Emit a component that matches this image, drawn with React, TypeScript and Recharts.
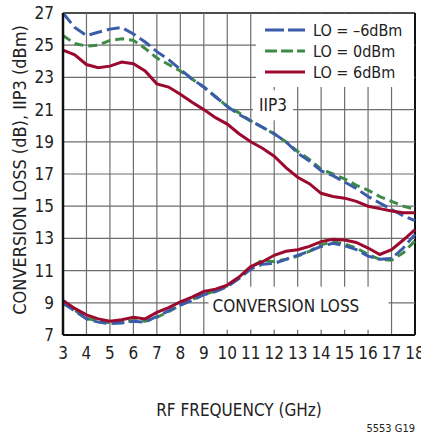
import { LineChart, Line, ReferenceDot, ReferenceLine, XAxis, YAxis } from "recharts";

const FONT =
  "'Liberation Sans Narrow', 'Arial Narrow', 'DejaVu Sans Condensed', sans-serif";

// RF frequency (GHz)
const FREQ = [
  3, 3.5, 4, 4.5, 5, 5.5, 6, 6.5, 7, 7.5, 8, 8.5, 9, 9.5, 10, 10.5, 11, 11.5,
  12, 12.5, 13, 13.5, 14, 14.5, 15, 15.5, 16, 16.5, 17, 17.5, 18,
];

// IIP3 (dBm)
const IIP3_LO_M6 = [
  27.0, 26.1, 25.6, 25.8, 26.0, 26.1, 25.7, 25.2, 24.6, 24.1, 23.5, 22.9, 22.4,
  21.8, 21.2, 20.7, 20.3, 19.9, 19.5, 19.0, 18.3, 17.8, 17.2, 16.9, 16.5, 16.1,
  15.6, 15.2, 14.8, 14.4, 14.1,
];
const IIP3_LO_0 = [
  25.6, 25.1, 24.95, 25.0, 25.3, 25.4, 25.3, 24.8, 24.2, 23.8, 23.4, 22.9, 22.4,
  21.8, 21.2, 20.8, 20.3, 19.9, 19.5, 19.0, 18.4, 17.9, 17.3, 17.0, 16.7, 16.3,
  16.0, 15.6, 15.3, 15.0, 14.8,
];
const IIP3_LO_6 = [
  24.7, 24.4, 23.8, 23.6, 23.7, 23.95, 23.85, 23.4, 22.6, 22.4, 21.95, 21.45,
  21.0, 20.5, 20.1, 19.5, 19.0, 18.6, 18.1, 17.4, 16.8, 16.4, 15.8, 15.6, 15.5,
  15.3, 15.0, 14.85, 14.7, 14.6, 14.6,
];

// Conversion loss (dB)
const CL_LO_M6 = [
  9.0, 8.5, 8.0, 7.8, 7.7, 7.75, 7.85, 7.8, 8.15, 8.5, 8.85, 9.15, 9.5, 9.7,
  10.0, 10.5, 11.1, 11.4, 11.45, 11.7, 11.95, 12.2, 12.5, 12.7, 12.55, 12.3,
  11.9, 11.7, 11.75, 12.4, 13.25,
];
const CL_LO_0 = [
  8.95, 8.55, 8.05, 7.85, 7.75, 7.8, 7.9, 7.85, 8.1, 8.45, 8.85, 9.2, 9.5, 9.75,
  10.05, 10.55, 11.2, 11.65, 11.55, 11.7, 11.9, 12.2, 12.6, 12.8, 12.65, 12.4,
  12.0, 11.7, 11.65, 12.1, 12.85,
];
const CL_LO_6 = [
  9.15, 8.65, 8.25, 8.0, 7.85, 7.95, 8.1, 8.0, 8.4, 8.7, 9.05, 9.35, 9.7, 9.85,
  10.1, 10.6, 11.25, 11.55, 11.95, 12.2, 12.3, 12.5, 12.8, 12.95, 12.9, 12.75,
  12.4, 12.0, 12.3, 12.9, 13.55,
];

const X_TICKS = [3, 4, 5, 6, 7, 8, 9, 10, 11, 12, 13, 14, 15, 16, 17, 18];
const Y_TICKS = [7, 9, 11, 13, 15, 17, 19, 21, 23, 25, 27];
const X_MIN = 3;
const X_MAX = 18;
const Y_MIN = 7;
const Y_MAX = 27;

const LEGEND_LABELS = ["LO = \u20136dBm", "LO = 0dBm", "LO = 6dBm"];

const BLUE = "#3b5cab";
const GREEN = "#3d8b45";
const RED = "#9b0a2e";
const GRID = "#6e6e6e";

const SERIES = [
  { iip3: "iip3_0", cl: "cl_0", color: GREEN, dash: "9 5" },
  { iip3: "iip3_m6", cl: "cl_m6", color: BLUE, dash: "13 5" },
  { iip3: "iip3_6", cl: "cl_6", color: RED, dash: undefined },
];

const data = FREQ.map((f, i) => ({
  f,
  iip3_m6: IIP3_LO_M6[i],
  iip3_0: IIP3_LO_0[i],
  iip3_6: IIP3_LO_6[i],
  cl_m6: CL_LO_M6[i],
  cl_0: CL_LO_0[i],
  cl_6: CL_LO_6[i],
}));

// grid drawn as two-point series so it goes through the chart scales
const gridV = X_TICKS.slice(1, -1).map((t) => [
  { f: t, g: Y_MIN },
  { f: t, g: Y_MAX },
]);
const gridH = Y_TICKS.slice(1, -1).map((t) => [
  { f: X_MIN, g: t },
  { f: X_MAX, g: t },
]);

const LEGEND_STYLES = [
  { color: BLUE, dash: "19 4" },
  { color: GREEN, dash: "12 4" },
  { color: RED, dash: undefined },
];

// white label box anchored at its top-left data corner
function labelBox(text: string, w: number, h: number, centered: boolean) {
  return (props: { cx?: number; cy?: number }) => {
    if (typeof props.cx !== "number" || typeof props.cy !== "number") {
      return <g />;
    }
    return (
      <g transform={`translate(${props.cx}, ${props.cy})`}>
        <rect x={0} y={0} width={w} height={h} fill="#fff" />
        <text
          x={centered ? w / 2 : 4}
          y={h / 2 - (centered ? 0 : 2)}
          dy="0.36em"
          textAnchor={centered ? "middle" : "start"}
          fontSize={17}
          fontFamily={FONT}
          fill="#222"
        >
          {text}
        </text>
      </g>
    );
  };
}

export default function App() {
  return (
    <div
      style={{
        position: "absolute",
        left: 0,
        top: 0,
        width: 421,
        height: 436,
        background: "#fff",
        fontFamily: FONT,
      }}
    >
      <LineChart
        width={421}
        height={436}
        data={data}
        margin={{ top: 13, right: 6, bottom: 71, left: 0 }}
      >
        <XAxis
          dataKey="f"
          type="number"
          domain={[X_MIN, X_MAX]}
          ticks={X_TICKS}
          interval={0}
          tickLine={false}
          tickSize={0}
          tickMargin={12}
          axisLine={{ stroke: "#111", strokeWidth: 2 }}
          tick={{ fill: "#222", fontSize: 17, fontFamily: FONT }}
        />
        <YAxis
          type="number"
          domain={[Y_MIN, Y_MAX]}
          ticks={Y_TICKS}
          interval={0}
          width={63}
          tickLine={false}
          tickSize={0}
          tickMargin={9}
          axisLine={{ stroke: "#111", strokeWidth: 2.5 }}
          tick={{ fill: "#222", fontSize: 17, fontFamily: FONT }}
        />
        {gridV.map((pts, i) => (
          <Line
            key={`gv${i}`}
            data={pts}
            dataKey="g"
            type="linear"
            dot={false}
            activeDot={false}
            stroke={GRID}
            strokeWidth={1.2}
            zIndex={405}
            isAnimationActive={false}
          />
        ))}
        {gridH.map((pts, i) => (
          <Line
            key={`gh${i}`}
            data={pts}
            dataKey="g"
            type="linear"
            dot={false}
            activeDot={false}
            stroke={GRID}
            strokeWidth={1.2}
            zIndex={405}
            isAnimationActive={false}
          />
        ))}
        <ReferenceLine x={X_MAX} stroke="#111" strokeWidth={2} />
        <ReferenceLine y={Y_MAX} stroke="#111" strokeWidth={1.5} />
        <ReferenceDot
          x={11.1}
          y={22.2}
          r={0}
          fill="none"
          stroke="none"
          zIndex={410}
          shape={labelBox("IIP3", 40, 30, true)}
        />
        <ReferenceDot
          x={9.2}
          y={10.0}
          r={0}
          fill="none"
          stroke="none"
          zIndex={410}
          shape={labelBox("CONVERSION LOSS", 180, 43, false)}
        />
        {SERIES.map((s) => (
          <Line
            key={s.iip3}
            dataKey={s.iip3}
            type="linear"
            dot={false}
            stroke={s.color}
            strokeWidth={3}
            strokeDasharray={s.dash}
            zIndex={420}
            isAnimationActive={false}
          />
        ))}
        {SERIES.map((s) => (
          <Line
            key={s.cl}
            dataKey={s.cl}
            type="linear"
            dot={false}
            stroke={s.color}
            strokeWidth={3}
            strokeDasharray={s.dash}
            zIndex={420}
            isAnimationActive={false}
          />
        ))}
      </LineChart>

      <svg
        width={421}
        height={436}
        style={{ position: "absolute", left: 0, top: 0, pointerEvents: "none" }}
        fontFamily={FONT}
      >
        <rect x={256} y={14} width={158} height={73} fill="#fff" />
        {LEGEND_LABELS.map((label, i) => (
          <g key={label}>
            <line
              x1={265}
              x2={305}
              y1={30 + i * 21}
              y2={30 + i * 21}
              stroke={LEGEND_STYLES[i].color}
              strokeWidth={3}
              strokeDasharray={LEGEND_STYLES[i].dash}
            />
            <text x={313} y={30 + i * 21} dy="0.36em" fontSize={16} fill="#222">
              {label}
            </text>
          </g>
        ))}
        <text
          x={239}
          y={410}
          dy="0.36em"
          textAnchor="middle"
          fontSize={17}
          fill="#222"
        >
          RF FREQUENCY (GHz)
        </text>
        <text
          transform="translate(19.5, 170) rotate(-90)"
          dy="0.36em"
          textAnchor="middle"
          fontSize={18}
          fill="#222"
        >
          CONVERSION LOSS (dB), IIP3 (dBm)
        </text>
        <text
          x={415}
          y={428}
          dy="0.36em"
          textAnchor="end"
          fontSize={11}
          fill="#222"
        >
          5553 G19
        </text>
      </svg>
    </div>
  );
}
